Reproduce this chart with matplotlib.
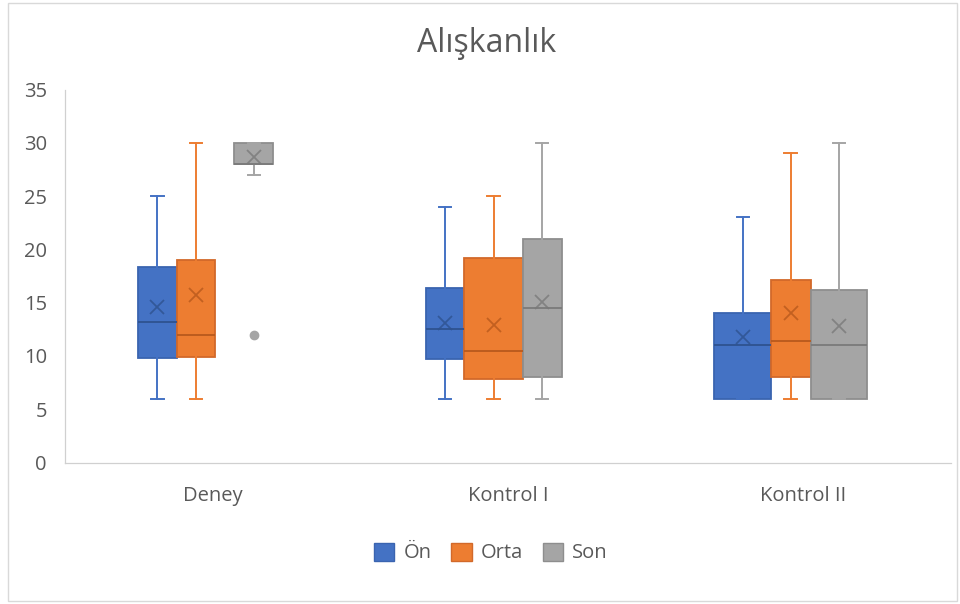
import matplotlib
matplotlib.use("Agg")
import matplotlib.pyplot as plt
from matplotlib.patches import Patch, Rectangle

plt.rcParams['font.family'] = ['Open Sans', 'DejaVu Sans']

# ---- data ----
categories = ["Deney", "Kontrol I", "Kontrol II"]
series = ["Ön", "Orta", "Son"]
yticks = [0, 5, 10, 15, 20, 25, 30, 35]

# per category, per series: [whislo, q1, median, q3, whishi]
deney_stats = [[6, 9.8, 13.2, 18.3, 25], [6, 9.9, 12.0, 19.0, 30], [27, 28, 28, 30, 30]]
kontrol1_stats = [[6, 9.7, 12.5, 16.4, 24], [6, 7.8, 10.5, 19.2, 25], [6, 8.0, 14.5, 21.0, 30]]
kontrol2_stats = [[6, 6.0, 11.0, 14.0, 23], [6, 8.0, 11.4, 17.1, 29], [6, 6.0, 11.0, 16.2, 30]]
deney_means = [14.6, 15.7, 28.7]
kontrol1_means = [13.1, 12.9, 15.1]
kontrol2_means = [11.8, 14.0, 12.8]
deney_outliers = [[], [], [12]]
kontrol1_outliers = [[], [], []]
kontrol2_outliers = [[], [], []]

all_stats = [deney_stats, kontrol1_stats, kontrol2_stats]
all_means = [deney_means, kontrol1_means, kontrol2_means]
all_outliers = [deney_outliers, kontrol1_outliers, kontrol2_outliers]

# ---- layout / style ----
offsets = [[-0.187, -0.057, 0.139], [-0.213, -0.049, 0.116], [-0.205, -0.043, 0.121]]
widths = [[0.130, 0.130, 0.133], [0.129, 0.198, 0.132], [0.192, 0.135, 0.190]]
fill_colors = ["#4472C4", "#ED7D31", "#A5A5A5"]
edge_colors = ["#3A64B0", "#D2692A", "#8E8E8E"]
mean_colors = ["#2E528F", "#B8591C", "#7A7A7A"]
text_color = "#595959"

W, H = 960, 604
fig = plt.figure(figsize=(W / 100, H / 100), dpi=100)
ax = fig.add_axes([65 / W, 1 - 462.5 / H, (951 - 65) / W, (462.5 - 89.5) / H])

for ci in range(len(categories)):
    for si in range(len(series)):
        lo, q1, med, q3, hi = all_stats[ci][si]
        st = dict(whislo=lo, q1=q1, med=med, q3=q3, whishi=hi,
                  mean=all_means[ci][si], fliers=all_outliers[ci][si])
        pos = ci + 0.5 + offsets[ci][si]
        ax.bxp([st], positions=[pos], widths=[widths[ci][si]], capwidths=[0.042],
               patch_artist=True, showmeans=True, manage_ticks=False,
               boxprops=dict(facecolor=fill_colors[si], edgecolor=edge_colors[si], linewidth=1.3),
               whiskerprops=dict(color=fill_colors[si], linewidth=1.4),
               capprops=dict(color=fill_colors[si], linewidth=1.4),
               medianprops=dict(color=mean_colors[si], linewidth=1.3),
               meanprops=dict(marker='x', markersize=10, markeredgewidth=1.3,
                              markeredgecolor=mean_colors[si], alpha=0.8),
               flierprops=dict(marker='o', markersize=6, markerfacecolor=fill_colors[si],
                               markeredgecolor=fill_colors[si]))

ax.set_xlim(0, 3)
ax.set_ylim(0, 35)
ax.set_yticks(yticks)
ax.set_yticklabels([str(t) for t in yticks])
ax.set_xticks([0.5, 1.5, 2.5])
ax.set_xticklabels(categories)
ax.tick_params(axis='both', length=0, colors=text_color, labelsize=14.5)
ax.tick_params(axis='y', pad=13)
ax.tick_params(axis='x', pad=17)
for side in ['top', 'right']:
    ax.spines[side].set_visible(False)
for side in ['left', 'bottom']:
    ax.spines[side].set_color("#D0D0D0")
    ax.spines[side].set_linestyle((0, (2, 1)))
    ax.spines[side].set_linewidth(0.9)

fig.text(487 / W, 1 - 52 / H, "Alışkanlık", ha='center', va='baseline',
         fontsize=23, color=text_color)

handles = [Patch(facecolor=fill_colors[i], edgecolor=edge_colors[i], label=series[i]) for i in range(3)]
fig.legend(handles=handles, loc='center', bbox_to_anchor=(491 / W, 1 - 553 / H), ncol=3,
           frameon=False, fontsize=14.5, labelcolor=text_color, handlelength=1.0,
           handleheight=1.0, handletextpad=0.45, columnspacing=1.0)

fig.patches.append(Rectangle((8 / W, 1 - 601 / H), (957 - 8) / W, (601 - 3) / H,
                             transform=fig.transFigure, fill=False,
                             edgecolor="#D9D9D9", linewidth=1.0))

fig.savefig("out.png", dpi=100)
